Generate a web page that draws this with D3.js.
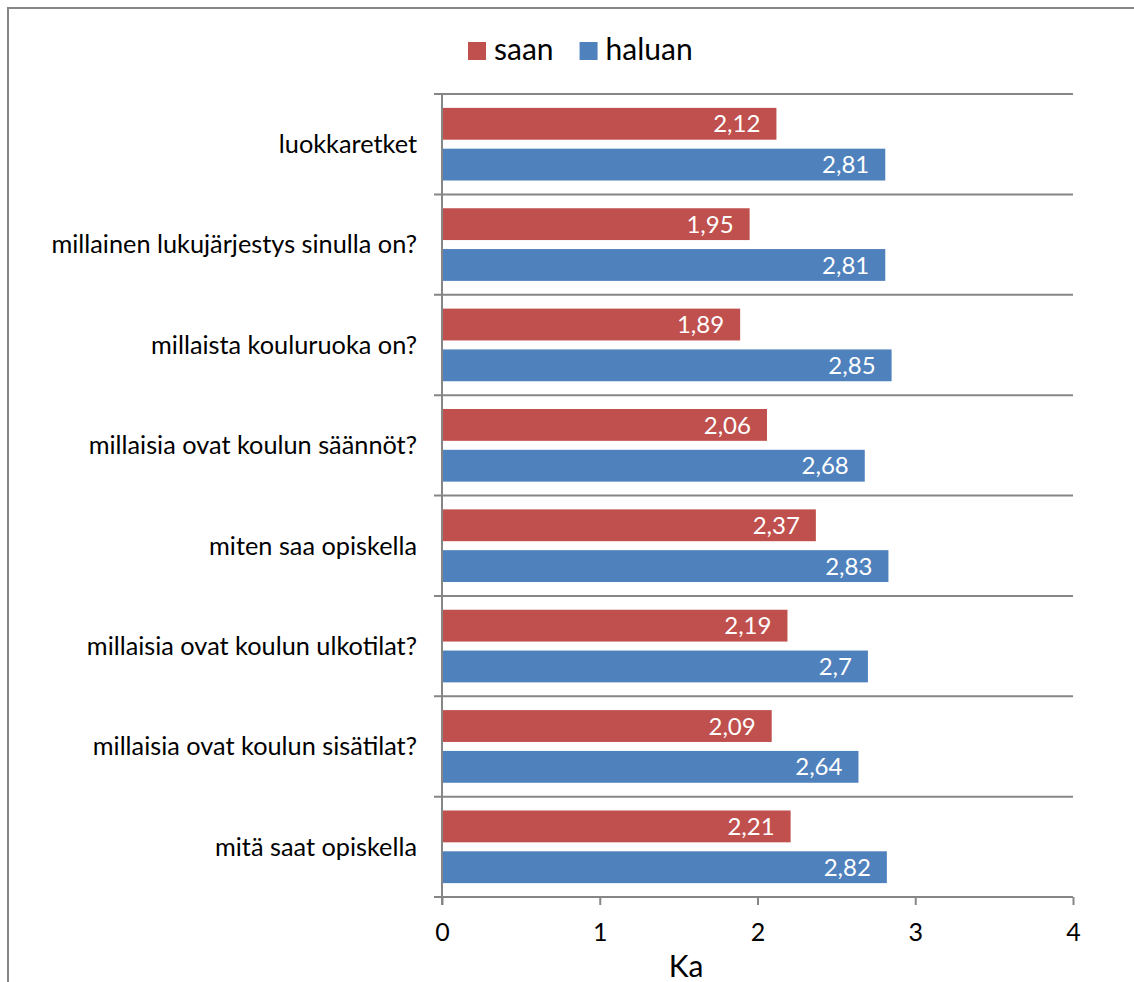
<!DOCTYPE html>
<html>
<head>
<meta charset="utf-8">
<script src="https://cdn.jsdelivr.net/npm/d3@7"></script>
<style>
  body { margin: 0; background: #fff; }
  svg text { font-family: Lato, "Liberation Sans", sans-serif; }
</style>
</head>
<body>
<div id="chart"></div>
<script>
// kysymykset, ylhäältä alas
const categories = [
  'luokkaretket',
  'millainen lukujärjestys sinulla on?',
  'millaista kouluruoka on?',
  'millaisia ovat koulun säännöt?',
  'miten saa opiskella',
  'millaisia ovat koulun ulkotilat?',
  'millaisia ovat koulun sisätilat?',
  'mitä saat opiskella'
];
const seriesNames = ['saan', 'haluan'];
const saanValues = [2.12, 1.95, 1.89, 2.06, 2.37, 2.19, 2.09, 2.21];
const haluanValues = [2.81, 2.81, 2.85, 2.68, 2.83, 2.7, 2.64, 2.82];
const xTicks = [0, 1, 2, 3, 4];
const xTitle = 'Ka';

const colors = { saan: '#C0504D', haluan: '#4F81BD' };
const gridColor = '#868686';

const width = 1134, height = 982;
const plot = { left: 442, right: 1073, top: 94, bottom: 897 };

// suomalainen desimaalipilkku
const fi = d3.formatLocale({ decimal: ',', thousands: ' ', grouping: [3], currency: ['', ' €'] });
const fmt = fi.format('.3~g');

const rows = categories.map((c, i) => ({ cat: c, saan: saanValues[i], haluan: haluanValues[i] }));

const svg = d3.select('#chart').append('svg')
  .attr('width', width)
  .attr('height', height);

// kehys (vain vasen ja ylä näkyvissä)
svg.append('path')
  .attr('d', `M8,${height} L8,8 L${width},8`)
  .attr('fill', 'none')
  .attr('stroke', gridColor)
  .attr('stroke-width', 2);

const x = d3.scaleLinear().domain([0, 4]).range([plot.left, plot.right]);
const y = d3.scaleBand().domain(categories).range([plot.top, plot.bottom]).padding(0);
const ySub = d3.scaleBand().domain(seriesNames).range([0, y.bandwidth()])
  .paddingInner(0.22).paddingOuter(0.34);

// vaakaviivat luokkien rajoilla
const bounds = categories.map(c => y(c)).concat([y(categories[categories.length - 1]) + y.bandwidth()]);
svg.append('g').selectAll('line')
  .data(bounds)
  .join('line')
  .attr('x1', plot.left - 8)
  .attr('x2', plot.right)
  .attr('y1', d => d)
  .attr('y2', d => d)
  .attr('stroke', gridColor)
  .attr('stroke-width', 2);

// pystyakseli
svg.append('line')
  .attr('x1', plot.left).attr('x2', plot.left)
  .attr('y1', plot.top).attr('y2', plot.bottom + 8)
  .attr('stroke', gridColor)
  .attr('stroke-width', 2);

// x-akseli
const xAxis = svg.append('g')
  .attr('transform', `translate(0,${plot.bottom})`)
  .call(d3.axisBottom(x).tickValues(xTicks).tickFormat(d3.format('d')).tickSize(8).tickPadding(18));
xAxis.select('.domain').remove();
xAxis.selectAll('.tick line').attr('stroke', gridColor).attr('stroke-width', 2);
xAxis.selectAll('.tick text')
  .attr('fill', '#000')
  .style('font-size', '25px');

svg.append('text')
  .attr('x', 686)
  .attr('y', 977)
  .attr('text-anchor', 'middle')
  .style('font-size', '30px')
  .attr('fill', '#000')
  .text(xTitle);

// luokkien nimet
svg.append('g').selectAll('text')
  .data(categories)
  .join('text')
  .attr('x', 417)
  .attr('y', d => y(d) + y.bandwidth() / 2)
  .attr('dy', '0.35em')
  .attr('text-anchor', 'end')
  .attr('fill', '#000')
  .style('font-size', '25.3px')
  .text(d => d);

// palkit
const groups = svg.append('g').selectAll('g')
  .data(rows)
  .join('g')
  .attr('transform', d => `translate(0,${y(d.cat)})`);

groups.selectAll('rect')
  .data(d => seriesNames.map(s => ({ key: s, value: d[s] })))
  .join('rect')
  .attr('x', x(0) + 1)
  .attr('y', d => ySub(d.key))
  .attr('width', d => x(d.value) - x(0) - 1)
  .attr('height', ySub.bandwidth())
  .attr('fill', d => colors[d.key]);

groups.selectAll('text')
  .data(d => seriesNames.map(s => ({ key: s, value: d[s] })))
  .join('text')
  .attr('x', d => x(d.value) - 16)
  .attr('y', d => ySub(d.key) + ySub.bandwidth() / 2)
  .attr('dy', '0.36em')
  .attr('text-anchor', 'end')
  .attr('fill', '#fff')
  .style('font-size', '24px')
  .text(d => fmt(d.value));

// selite
const legend = svg.append('g');
let lx = 468;
seriesNames.forEach(s => {
  legend.append('rect')
    .attr('x', lx).attr('y', 42)
    .attr('width', 18).attr('height', 18)
    .attr('fill', colors[s]);
  const t = legend.append('text')
    .attr('x', lx + 26)
    .attr('y', 60)
    .attr('fill', '#000')
    .style('font-size', '30px')
    .text(s);
  lx += 26 + t.node().getComputedTextLength() + 26;
});
</script>
</body>
</html>
